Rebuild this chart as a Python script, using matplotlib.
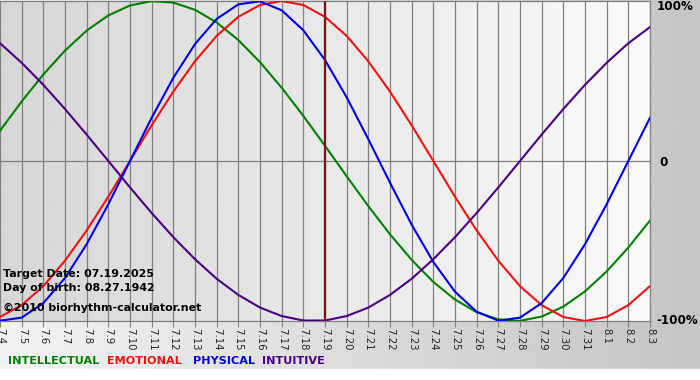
import numpy as np
import matplotlib
matplotlib.use('Agg')
import matplotlib.pyplot as plt

plt.rcParams['font.family'] = ['DejaVu Sans']

# days shown on the x axis (7.4 .. 8.3)
day_labels = ['7.%d' % d for d in range(4, 32)] + ['8.1', '8.2', '8.3']

# cycle values, one per day
physical = [-0.998, -0.979, -0.888, -0.731, -0.520, -0.270, 0.0, 0.270, 0.520, 0.731,
            0.888, 0.979, 0.998, 0.942, 0.817, 0.631, 0.398, 0.136, -0.136, -0.398,
            -0.631, -0.817, -0.942, -0.998, -0.979, -0.888, -0.731, -0.520, -0.270, 0.0,
            0.270]
emotional = [-0.975, -0.901, -0.782, -0.623, -0.434, -0.223, 0.0, 0.223, 0.434, 0.623,
             0.782, 0.901, 0.975, 1.0, 0.975, 0.901, 0.782, 0.623, 0.434, 0.223,
             0.0, -0.223, -0.434, -0.623, -0.782, -0.901, -0.975, -1.0, -0.975, -0.901,
             -0.782]
intellectual = [0.189, 0.372, 0.541, 0.690, 0.815, 0.910, 0.972, 0.999, 0.990, 0.945,
                0.866, 0.756, 0.618, 0.458, 0.282, 0.095, -0.095, -0.282, -0.458, -0.618,
                -0.756, -0.866, -0.945, -0.990, -0.999, -0.972, -0.910, -0.815, -0.690, -0.541,
                -0.372]
intuitive = [0.736, 0.614, 0.476, 0.325, 0.165, 0.0, -0.165, -0.325, -0.476, -0.614,
             -0.736, -0.837, -0.916, -0.969, -0.997, -0.997, -0.969, -0.916, -0.837, -0.736,
             -0.614, -0.476, -0.325, -0.165, 0.0, 0.165, 0.325, 0.476, 0.614, 0.736,
             0.837]

target_index = 15  # 7.19

series_names = ['INTELLECTUAL', 'EMOTIONAL', 'PHYSICAL', 'INTUITIVE']
series_colors = ['#008000', '#ee1111', '#0000e0', '#4b0082']
legend_x = [8, 107, 193, 262]  # pixel start of each legend word

W, H = 700, 380
fig = plt.figure(figsize=(W / 100, H / 100), dpi=100)

# outer background, light on the left, darker on the right
bg = fig.add_axes([0, 0, 1, 1])
grad = np.linspace(0.95, 0.77, 256)
img = np.tile(grad, (64, 1))
bg.imshow(img, cmap='gray', vmin=0, vmax=1, aspect='auto', extent=[0, W, 0, H])
bg.axhspan(0, 11, color='white')
bg.set_xlim(0, W)
bg.set_ylim(0, H)
bg.axis('off')

# plot area
ax = fig.add_axes([0, 59 / H, 650 / W, 320 / H])
x = np.arange(len(day_labels))
ax.imshow(np.tile(np.linspace(0.84, 0.98, 256), (16, 1)), cmap='gray', vmin=0, vmax=1,
          aspect='auto', extent=[0, len(x) - 1, -1, 1], zorder=0)
ax.set_xlim(0, len(x) - 1)
ax.set_ylim(-1, 1)

for xi in x:
    ax.axvline(xi, color='#808080', lw=0.9, zorder=1)
ax.axhline(0, color='#808080', lw=0.9, zorder=1)

for vals, c in zip([intellectual, emotional, physical, intuitive], series_colors):
    ax.plot(x, vals, color=c, lw=1.5, zorder=3, solid_joinstyle='round')

ax.axvline(target_index, color='#7a1418', lw=1.6, zorder=4)

ax.set_xticks(x)
ax.set_xticklabels(day_labels, rotation=-90, fontsize=7.3, color='#222222')
ax.tick_params(axis='x', length=4, color='#808080', pad=1)
ax.set_yticks([])
for side in ['top', 'bottom', 'right']:
    ax.spines[side].set_color('#808080')
    ax.spines[side].set_linewidth(0.9)
ax.spines['left'].set_visible(False)

txt = dict(fontsize=7.9, fontweight='bold', color='black', transform=ax.transAxes)
ax.text(0.004, 0.138, 'Target Date: 07.19.2025', **txt)
ax.text(0.004, 0.093, 'Day of birth: 08.27.1942', **txt)
ax.text(0.004, 0.030, '\u00a92010 biorhythm-calculator.net', **txt)

# right side percent labels
rt = dict(fontsize=8.6, fontweight='bold', va='center')
fig.text(657 / W, 1 - 7 / H, '100%', **rt)
fig.text(659 / W, 1 - 162 / H, '0', **rt)
fig.text(656 / W, 1 - 321 / H, '-100%', **rt)

# legend as coloured words
for name, c, lx in zip(series_names, series_colors, legend_x):
    fig.text(lx / W, 1 - 361 / H, name, fontsize=8.1, fontweight='bold',
             color=c, va='center')

fig.savefig('out.png', dpi=100)
